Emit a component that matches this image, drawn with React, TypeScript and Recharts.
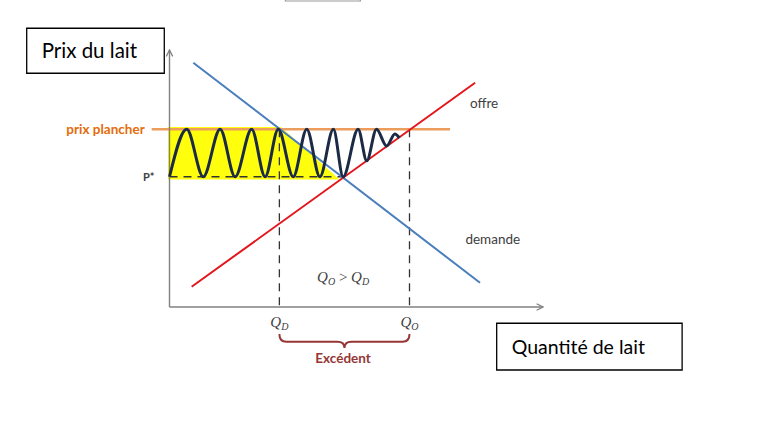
import React from "react";
import {
    ComposedChart, Line, Area, XAxis, YAxis, ReferenceLine, ReferenceDot, ReferenceArea
} from "recharts";

// price / quantity in chart units (origin at the axes corner)
const demandCurve = [{ x: 6.35, y: 97.7 }, { x: 82.8, y: 9.7 }];
const supplyCurve = [{ x: 5.9, y: 8.1 }, { x: 81.5, y: 89.7 }];
const floorPrice = 71.1;
const equilibriumPrice = 52.1;
const equilibriumQty = 46.3;
const qDemanded = 29.3;
const qSupplied = 64.0;

// peaks and troughs of the oscillating price path
const priceWave = [
    { x: 0, y: 52.1 }, { x: 4.6, y: 71.1 }, { x: 9.0, y: 52.1 }, { x: 13.5, y: 71.1 },
    { x: 17.5, y: 52.1 }, { x: 21.9, y: 71.1 }, { x: 25.5, y: 52.1 }, { x: 29.0, y: 71.1 },
    { x: 33.0, y: 52.1 }, { x: 36.6, y: 71.1 }, { x: 40.1, y: 52.1 }, { x: 43.7, y: 71.1 },
    { x: 46.3, y: 52.1 }, { x: 50.3, y: 71.1 }, { x: 52.6, y: 58.5 }, { x: 55.2, y: 71.1 },
    { x: 57.9, y: 64.4 }, { x: 60.1, y: 69.2 }, { x: 61.3, y: 67.6 },
];

// highlighted zone (top edge), filled down to P*
const highlightTop = [{ x: -0.4, y: 72 }, { x: 29.7, y: 72 }, { x: 45.2, y: 51.2 }];
const highlightBase = 51.0;

const X_DOMAIN: [number, number] = [-45.2, 158.8];
const Y_DOMAIN: [number, number] = [-49.6, 122.8];

const TEXT = "#404040";
const Q_FONT = "'Liberation Serif', serif";

// eslint-disable-next-line @typescript-eslint/no-explicit-any
const QLabel = ({ viewBox, sub }: any) => {
    const cx = viewBox.x + (viewBox.width || 0) / 2;
    const cy = viewBox.y + (viewBox.height || 0) / 2;
    return (
        <text x={cx} y={cy + 5} textAnchor="middle" fill={TEXT} fontFamily={Q_FONT} fontStyle="italic" fontSize={15}>
            Q<tspan fontSize={10} dy={3}>{sub}</tspan>
        </text>
    );
};

// eslint-disable-next-line @typescript-eslint/no-explicit-any
const CompareLabel = ({ viewBox }: any) => {
    const cx = viewBox.x + (viewBox.width || 0) / 2;
    const cy = viewBox.y + (viewBox.height || 0) / 2;
    return (
        <text x={cx} y={cy + 5} textAnchor="middle" fill={TEXT} fontFamily={Q_FONT} fontStyle="italic" fontSize={15}>
            Q<tspan fontSize={10} dy={3}>O</tspan>
            <tspan dy={-3} fontStyle="normal">{" > "}</tspan>
            Q<tspan fontSize={10} dy={3}>D</tspan>
        </text>
    );
};

// eslint-disable-next-line @typescript-eslint/no-explicit-any
const Brace = ({ x, y, width, height }: any) => {
    const mid = x + width / 2;
    const h = y + height * 0.55;
    const b = y + height;
    const r = 7;
    const d = `M${x},${y} Q${x},${h} ${x + r},${h} L${mid - r},${h} Q${mid},${h} ${mid},${b} Q${mid},${h} ${mid + r},${h} L${x + width - r},${h} Q${x + width},${h} ${x + width},${y}`;
    return <path d={d} fill="none" stroke="#953735" strokeWidth={2} />;
};

export default function App() {
    return (
        <div style={{ position: "absolute", left: 0, top: 0, width: 765, height: 431, background: "#fff", fontFamily: "Lato, sans-serif" }}>
            <ComposedChart width={765} height={431} margin={{ top: 0, right: 0, bottom: 0, left: 0 }}>
                <defs>
                    <marker id="axisArrow" viewBox="0 0 10 10" refX="9" refY="5" markerWidth="8" markerHeight="8" markerUnits="userSpaceOnUse" orient="auto">
                        <path d="M1,1 L9,5 L1,9" fill="none" stroke="#808080" strokeWidth={1.6} />
                    </marker>
                </defs>
                <XAxis type="number" dataKey="x" domain={X_DOMAIN} allowDataOverflow hide />
                <YAxis type="number" dataKey="y" domain={Y_DOMAIN} allowDataOverflow hide />

                <Area data={highlightTop} dataKey="y" type="linear" baseValue={highlightBase} fill="#ffff00" fillOpacity={0.95} stroke="none" dot={false} activeDot={false} isAnimationActive={false} />

                <ReferenceLine
                    segment={[{ x: -4.75, y: floorPrice }, { x: 74.8, y: floorPrice }]}
                    stroke="#ec9c5c" strokeWidth={2.5} ifOverflow="visible"
                    label={{ value: "prix plancher", position: "left", offset: 7, fill: "#e46c0a", fontSize: 13.5, fontWeight: "bold" }}
                />
                <ReferenceLine
                    segment={[{ x: 0, y: equilibriumPrice }, { x: equilibriumQty, y: equilibriumPrice }]}
                    stroke="#333" strokeWidth={1.3} strokeDasharray="8 6" ifOverflow="visible"
                    label={{ value: "P*", position: "left", offset: 15, fill: TEXT, fontSize: 11, fontWeight: "bold" }}
                />
                <ReferenceLine segment={[{ x: qDemanded, y: floorPrice }, { x: qDemanded, y: 0 }]} stroke="#333" strokeWidth={1.3} strokeDasharray="8 6" ifOverflow="visible" />
                <ReferenceLine segment={[{ x: qSupplied, y: floorPrice }, { x: qSupplied, y: 0 }]} stroke="#333" strokeWidth={1.3} strokeDasharray="8 6" ifOverflow="visible" />

                <ReferenceLine segment={[{ x: 0, y: 0 }, { x: 0, y: 102.8 }]} stroke="#808080" strokeWidth={1.4} markerEnd="url(#axisArrow)" ifOverflow="visible" />
                <ReferenceLine segment={[{ x: 0, y: 0 }, { x: 99.6, y: 0 }]} stroke="#808080" strokeWidth={1.4} markerEnd="url(#axisArrow)" ifOverflow="visible" />

                <Line data={demandCurve} dataKey="y" type="linear" stroke="#4a7ebb" strokeWidth={2} dot={false} activeDot={false} isAnimationActive={false} />
                <Line data={supplyCurve} dataKey="y" type="linear" stroke="#e3161c" strokeWidth={2} dot={false} activeDot={false} isAnimationActive={false} />
                <Line data={priceWave} dataKey="y" type="monotone" stroke="#1c2b45" strokeWidth={3} dot={false} activeDot={false} isAnimationActive={false} />

                <ReferenceDot x={83.9} y={81.6} r={0} stroke="none" ifOverflow="visible" label={{ value: "offre", position: "center", fill: TEXT, fontSize: 13.5 }} />
                <ReferenceDot x={86.2} y={27.2} r={0} stroke="none" ifOverflow="visible" label={{ value: "demande", position: "center", fill: TEXT, fontSize: 13.5 }} />
                <ReferenceDot x={equilibriumQty} y={12} r={0} stroke="none" ifOverflow="visible" label={<CompareLabel />} />
                <ReferenceDot x={qDemanded} y={-6} r={0} stroke="none" ifOverflow="visible" label={<QLabel sub="D" />} />
                <ReferenceDot x={qSupplied} y={-6} r={0} stroke="none" ifOverflow="visible" label={<QLabel sub="O" />} />

                <ReferenceArea x1={qDemanded} x2={qSupplied} y1={-16.4} y2={-10.8} ifOverflow="visible" shape={<Brace />} />
                <ReferenceDot x={equilibriumQty} y={-20.4} r={0} stroke="none" ifOverflow="visible" label={{ value: "Excédent", position: "center", fill: "#953735", fontSize: 13.5, fontWeight: "bold" }} />

                <ReferenceArea x1={-38.08} x2={-1.39} y1={93.5} y2={111.5} fill="#fff" fillOpacity={1} stroke="#000" strokeWidth={1.3} ifOverflow="visible"
                    label={{ value: "Prix du lait", position: "insideLeft", offset: 15, fill: "#000", fontSize: 20.5 }} />
                <ReferenceArea x1={87.25} x2={136.7} y1={-25.2} y2={-6.5} fill="#fff" fillOpacity={1} stroke="#000" strokeWidth={1.3} ifOverflow="visible"
                    label={{ value: "Quantité de lait", position: "insideLeft", offset: 15, fill: "#000", fontSize: 19.5 }} />
                <ReferenceArea x1={30.9} x2={50.9} y1={122.4} y2={126} fill="#fff" fillOpacity={1} stroke="#999" strokeWidth={1.2} ifOverflow="visible" />
            </ComposedChart>
        </div>
    );
}
